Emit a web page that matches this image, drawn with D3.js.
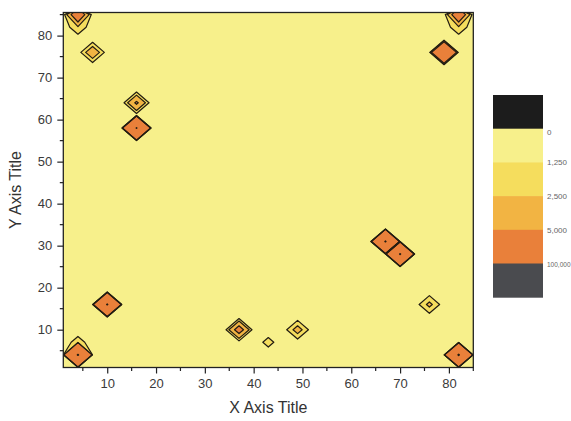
<!DOCTYPE html>
<html>
<head>
<meta charset="utf-8">
<script src="https://cdn.jsdelivr.net/npm/d3@7"></script>
<style>
  body { margin: 0; background: #fff; }
  text { font-family: "Liberation Sans", Arial, sans-serif; }
</style>
</head>
<body>
<svg width="571" height="421"></svg>
<script>
// grid: x and y run 1..85 in steps of 3
const gridX = d3.range(1, 86, 3);
const gridY = d3.range(1, 86, 3);
const background = 500;

// spikes
const spikeX = [4, 4, 10, 16, 16, 7, 37, 43, 49, 67, 70, 76, 79, 82, 4, 4, 82, 82];
const spikeY = [4, 7, 16, 58, 64, 76, 10, 7, 10, 31, 28, 16, 76, 4, 85, 82, 85, 82];
const spikeZ = [105000, 1900, 104000, 103000, 5600, 4300, 7000, 1700, 3400, 104000, 104000, 3000, 30000, 106000, 9000, 2200, 9000, 2200];

const levels = [0, 1250, 2500, 5000, 100000];
const levelLabels = ['0', '1,250', '2,500', '5,000', '100,000'];
const levelColors = ['#f7f08b', '#f5dd5d', '#f2b443', '#e9803a', '#4a4b4f'];
const belowColor = '#1c1c1c';

const xTicks = [10, 20, 30, 40, 50, 60, 70, 80];
const yTicks = [10, 20, 30, 40, 50, 60, 70, 80];

const svg = d3.select('svg');
const width = +svg.attr('width');
const height = +svg.attr('height');

const plot = { left: 63.3, right: 473.3, top: 12.5, bottom: 367.5 };

const xScale = d3.scaleLinear().domain([1, 85]).range([plot.left, plot.right]);
const yScale = d3.scaleLinear().domain([1, 85.5]).range([plot.bottom, plot.top]);

// build grid values
const nx = gridX.length, ny = gridY.length;
const values = new Array(nx * ny).fill(background);
spikeX.forEach((sx, k) => {
  const i = gridX.indexOf(sx), j = gridY.indexOf(spikeY[k]);
  values[j * nx + i] = spikeZ[k];
});

const contours = d3.contours().size([nx, ny]).thresholds(levels)(values);

// contour coords: sample i sits at i + 0.5
const proj = d3.geoTransform({
  point: function(px, py) {
    this.stream.point(xScale(gridX[0] + 3 * (px - 0.5)), yScale(gridY[0] + 3 * (py - 0.5)));
  }
});
const path = d3.geoPath(proj);

svg.append('defs').append('clipPath').attr('id', 'plotClip')
  .append('rect')
  .attr('x', plot.left).attr('y', plot.top)
  .attr('width', plot.right - plot.left).attr('height', plot.bottom - plot.top);

const g = svg.append('g').attr('clip-path', 'url(#plotClip)');

g.append('rect')
  .attr('x', plot.left).attr('y', plot.top)
  .attr('width', plot.right - plot.left).attr('height', plot.bottom - plot.top)
  .attr('fill', levelColors[0]);

g.selectAll('path.fill').data(contours)
  .enter().append('path')
  .attr('class', 'fill')
  .attr('d', path)
  .attr('fill', (d, i) => levelColors[i]);

g.selectAll('path.line').data(contours.slice(1))
  .enter().append('path')
  .attr('class', 'line')
  .attr('d', path)
  .attr('fill', 'none')
  .attr('stroke', '#231d12')
  .attr('stroke-width', 1.2)
  .attr('stroke-linejoin', 'round');

// frame
svg.append('rect')
  .attr('x', plot.left).attr('y', plot.top)
  .attr('width', plot.right - plot.left).attr('height', plot.bottom - plot.top)
  .attr('fill', 'none')
  .attr('stroke', '#222')
  .attr('stroke-width', 1.3);

// axes
const minorX = d3.range(5, 86, 10);
const minorY = d3.range(5, 86, 10);

const xAxisG = svg.append('g')
  .attr('transform', `translate(0,${plot.bottom})`)
  .call(d3.axisBottom(xScale).tickValues(xTicks).tickSize(6).tickPadding(5).tickFormat(d3.format('')));
xAxisG.select('.domain').remove();
xAxisG.selectAll('.tick line').attr('stroke', '#222').attr('stroke-width', 1.2);
xAxisG.selectAll('.tick text').attr('font-size', 13).attr('fill', '#3a3a3a')
  .attr('font-family', '"Liberation Sans", Arial, sans-serif');
xAxisG.selectAll('.minor').data(minorX)
  .enter().append('line')
  .attr('class', 'minor')
  .attr('x1', d => xScale(d)).attr('x2', d => xScale(d))
  .attr('y1', 0).attr('y2', 3.5)
  .attr('stroke', '#222').attr('stroke-width', 1.2);

const yAxisG = svg.append('g')
  .attr('transform', `translate(${plot.left},0)`)
  .call(d3.axisLeft(yScale).tickValues(yTicks).tickSize(6).tickPadding(5).tickFormat(d3.format('')));
yAxisG.select('.domain').remove();
yAxisG.selectAll('.tick line').attr('stroke', '#222').attr('stroke-width', 1.2);
yAxisG.selectAll('.tick text').attr('font-size', 13).attr('fill', '#3a3a3a')
  .attr('font-family', '"Liberation Sans", Arial, sans-serif');
yAxisG.selectAll('.minor').data(minorY)
  .enter().append('line')
  .attr('class', 'minor')
  .attr('y1', d => yScale(d)).attr('y2', d => yScale(d))
  .attr('x1', 0).attr('x2', -3.5)
  .attr('stroke', '#222').attr('stroke-width', 1.2);

svg.append('text')
  .attr('x', (plot.left + plot.right) / 2)
  .attr('y', 413)
  .attr('text-anchor', 'middle')
  .attr('font-size', 16)
  .attr('fill', '#333')
  .text('X Axis Title');

svg.append('text')
  .attr('transform', `translate(21,${(plot.top + plot.bottom) / 2}) rotate(-90)`)
  .attr('text-anchor', 'middle')
  .attr('font-size', 16)
  .attr('fill', '#333')
  .text('Y Axis Title');

// legend
const legend = { x: 493, y: 95, w: 50, h: 33.7 };
const legendColors = [belowColor].concat(levelColors);
const lg = svg.append('g');
lg.selectAll('rect').data(legendColors)
  .enter().append('rect')
  .attr('x', legend.x)
  .attr('y', (d, i) => legend.y + i * legend.h)
  .attr('width', legend.w)
  .attr('height', legend.h + 0.5)
  .attr('fill', d => d);

lg.selectAll('text').data(levelLabels)
  .enter().append('text')
  .attr('x', legend.x + legend.w + 4)
  .attr('y', (d, i) => legend.y + (i + 1) * legend.h + (i === 0 ? 6 : 3))
  .attr('font-size', d => d.length > 6 ? 6.5 : 8)
  .attr('fill', '#666')
  .text(d => d);
</script>
</body>
</html>
